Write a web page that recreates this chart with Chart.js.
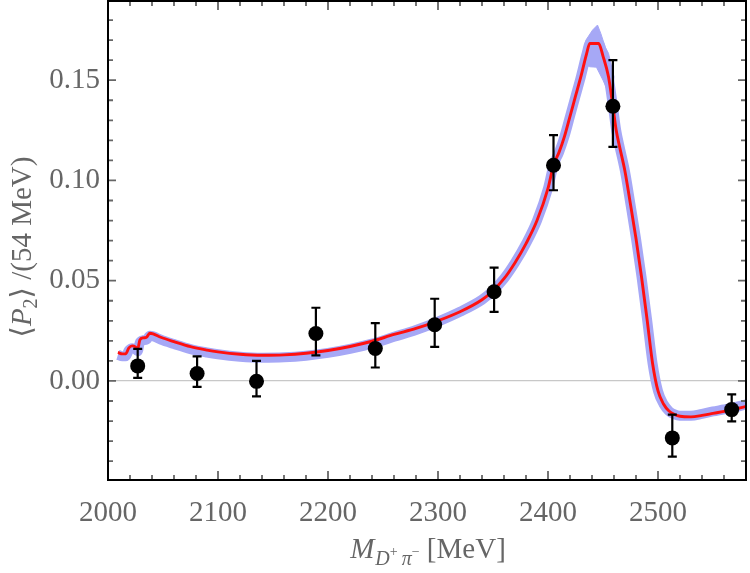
<!DOCTYPE html>
<html>
<head>
<meta charset="utf-8">
<script src="https://cdn.jsdelivr.net/npm/chart.js@4/dist/chart.umd.min.js"></script>
<style>
  body { margin: 0; background: #fff; }
  canvas { display: block; }
</style>
</head>
<body>
<canvas id="p2Chart" width="750" height="573"></canvas>
<script>
// measured <P2> per 54 MeV bin
const binMass = [2027, 2081, 2135, 2189, 2243, 2297, 2351, 2405, 2459, 2513, 2567];
const p2Val = [0.0075, 0.0037, -0.0002, 0.0237, 0.0162, 0.0280, 0.0445, 0.1076, 0.1370, -0.0284, -0.0143];
const p2Lo = [0.0015, -0.0030, -0.0077, 0.0128, 0.0067, 0.0170, 0.0345, 0.0951, 0.1167, -0.0377, -0.0202];
const p2Hi = [0.0160, 0.0123, 0.0100, 0.0365, 0.0288, 0.0410, 0.0565, 0.1226, 0.1600, -0.0168, -0.0067];

// fit curve (red) and centre of the uncertainty band (blue)
const fitMass = [2009, 2013, 2016, 2019, 2022, 2025, 2027, 2029, 2032, 2035,
  2038, 2041, 2048, 2060, 2075, 2090, 2100, 2120, 2140, 2160,
  2180, 2200, 2220, 2240, 2260, 2280, 2300, 2320, 2340, 2350,
  2360, 2370, 2380, 2390, 2400, 2405, 2410, 2415, 2420, 2425,
  2430, 2435, 2438, 2446, 2450, 2455, 2459, 2462, 2465, 2470,
  2475, 2480, 2485, 2490, 2495, 2500, 2505, 2510, 2515, 2520,
  2530, 2540, 2550, 2560, 2570, 2580];
const fitVal = [0.0142, 0.0135, 0.0135, 0.0165, 0.0175, 0.0170, 0.0160, 0.0205, 0.0215, 0.0218,
  0.0238, 0.0235, 0.0218, 0.0196, 0.0171, 0.0154, 0.0145, 0.0133, 0.0128, 0.0130,
  0.0138, 0.0152, 0.0172, 0.0198, 0.0232, 0.0262, 0.0300, 0.0345, 0.0405, 0.0450,
  0.0510, 0.0590, 0.0685, 0.0800, 0.0960, 0.1076, 0.1140, 0.1220, 0.1320, 0.1420,
  0.1520, 0.1630, 0.1683, 0.1683, 0.1620, 0.1517, 0.1370, 0.1250, 0.1170, 0.1045,
  0.0880, 0.0710, 0.0520, 0.0310, 0.0090, -0.0050, -0.0115, -0.0150, -0.0167, -0.0176,
  -0.0179, -0.0172, -0.0162, -0.0152, -0.0141, -0.0127];
const bandMid = [0.0130, 0.0123, 0.0123, 0.0153, 0.0163, 0.0158, 0.0148, 0.0193, 0.0203, 0.0206,
  0.0226, 0.0223, 0.0206, 0.0184, 0.0159, 0.0142, 0.0133, 0.0121, 0.0116, 0.0118,
  0.0126, 0.0140, 0.0160, 0.0186, 0.0220, 0.0254, 0.0296, 0.0345, 0.0405, 0.0450,
  0.0510, 0.0590, 0.0685, 0.0800, 0.0960, 0.1076, 0.1140, 0.1220, 0.1320, 0.1420,
  0.1520, 0.1630, 0.1683, 0.1683, 0.1620, 0.1517, 0.1370, 0.1250, 0.1170, 0.1045,
  0.0880, 0.0710, 0.0520, 0.0310, 0.0090, -0.0050, -0.0115, -0.0150, -0.0167, -0.0174,
  -0.0174, -0.0164, -0.0152, -0.0142, -0.0131, -0.0117];

// wider part of the band around the peak (outline)
const peakMass = [2430, 2434.5, 2440.5, 2445, 2448, 2452, 2455, 2460, 2458, 2450, 2444, 2438, 2433];
const peakVal = [0.1600, 0.1700, 0.1750, 0.1775, 0.1733, 0.1666, 0.1634, 0.1517, 0.1400, 0.1500, 0.1565, 0.1567, 0.1580];

const xTickVals = [2000, 2100, 2200, 2300, 2400, 2500];
const yTickVals = [0.00, 0.05, 0.10, 0.15];

const serif = '"Liberation Serif", "DejaVu Serif", serif';
const grey = '#666666';
const bandColor = 'rgb(166,168,246)';

function pts(xs, ys) {
  return xs.map((x, i) => ({ x: x, y: ys[i] }));
}

// error bars on top of the points
const errorBars = {
  id: 'errorBars',
  afterDatasetsDraw(chart) {
    const c = chart.ctx, xs = chart.scales.x, ys = chart.scales.y;
    c.save();
    c.strokeStyle = '#000';
    c.lineWidth = 2.2;
    binMass.forEach((m, i) => {
      const px = xs.getPixelForValue(m);
      const lo = ys.getPixelForValue(p2Lo[i]);
      const hi = ys.getPixelForValue(p2Hi[i]);
      c.beginPath();
      c.moveTo(px, lo); c.lineTo(px, hi);
      c.moveTo(px - 4.5, lo); c.lineTo(px + 4.5, lo);
      c.moveTo(px - 4.5, hi); c.lineTo(px + 4.5, hi);
      c.stroke();
    });
    c.restore();
  }
};

function runsWidth(c, runs) {
  let w = 0;
  runs.forEach(r => { c.font = r.font; w += c.measureText(r.text).width + (r.gap || 0); });
  return w;
}
function drawRuns(c, runs, x, y) {
  runs.forEach(r => {
    c.font = r.font;
    c.fillText(r.text, x, y + (r.dy || 0));
    x += c.measureText(r.text).width + (r.gap || 0);
  });
}

// frame, inward ticks on all sides, axis titles
const boxFrame = {
  id: 'boxFrame',
  afterDraw(chart) {
    const c = chart.ctx, a = chart.chartArea;
    const xs = chart.scales.x, ys = chart.scales.y;
    c.save();
    c.setTransform(1, 0, 0, 1, 0, 0);
    c.globalAlpha = 1;
    c.setLineDash([]);

    c.strokeStyle = grey;
    c.lineWidth = 1.8;
    c.beginPath();
    for (let v = 2000; v <= 2580; v += 20) {
      const px = xs.getPixelForValue(v);
      const len = v % 100 === 0 ? 9 : 5;
      c.moveTo(px, a.bottom); c.lineTo(px, a.bottom - len);
      c.moveTo(px, a.top); c.lineTo(px, a.top + len);
    }
    for (let k = -4; k <= 18; k++) {
      const py = ys.getPixelForValue(k / 100);
      const len = k % 5 === 0 ? 8 : 5;
      c.moveTo(a.left, py); c.lineTo(a.left + len, py);
      c.moveTo(a.right, py); c.lineTo(a.right - len, py);
    }
    c.stroke();

    c.strokeStyle = '#000000';
    c.lineWidth = 2;
    c.beginPath();
    c.rect(a.left, a.top, a.right - a.left, a.bottom - a.top);
    c.stroke();

    c.fillStyle = grey;
    c.textBaseline = 'alphabetic';
    c.textAlign = 'left';
    const big = '29px ' + serif, bigIt = 'italic 29px ' + serif;
    const sub = 'italic 20px ' + serif, sup = '14px ' + serif;

    const xRuns = [
      { text: 'M', font: bigIt, gap: 1 },
      { text: 'D', font: sub, dy: 7 },
      { text: '+', font: sup, dy: -2, gap: 4 },
      { text: 'π', font: sub, dy: 7 },
      { text: '−', font: sup, dy: -2 },
      { text: ' [MeV]', font: big }
    ];
    drawRuns(c, xRuns, 428 - runsWidth(c, xRuns) / 2, 558);

    const yRuns = [
      { text: '⟨', font: big },
      { text: 'P', font: bigIt },
      { text: '2', font: '20px ' + serif, dy: 6 },
      { text: '⟩', font: big },
      { text: ' /(54 MeV)', font: big }
    ];
    c.translate(21, 247);
    c.rotate(-Math.PI / 2);
    drawRuns(c, yRuns, -runsWidth(c, yRuns) / 2, 10);
    c.restore();
  }
};

function noPad(s) {
  s.paddingTop = 0; s.paddingBottom = 0;
  s.paddingLeft = 0; s.paddingRight = 0;
}

new Chart(document.getElementById('p2Chart'), {
  type: 'line',
  data: {
    datasets: [
      {
        type: 'scatter',
        data: pts(binMass, p2Val),
        pointRadius: 7.5,
        pointBackgroundColor: '#000',
        pointBorderWidth: 0,
        order: 0
      },
      {
        data: pts(fitMass, fitVal),
        borderColor: '#ff1010',
        borderWidth: 2.9,
        pointRadius: 0,
        cubicInterpolationMode: 'monotone',
        fill: false,
        order: 1
      },
      {
        data: pts(peakMass, peakVal),
        borderColor: bandColor,
        backgroundColor: bandColor,
        borderWidth: 1,
        pointRadius: 0,
        tension: 0,
        fill: 'shape',
        order: 2
      },
      {
        data: pts(fitMass, bandMid),
        borderColor: bandColor,
        borderWidth: 10,
        borderCapStyle: 'butt',
        borderJoinStyle: 'round',
        pointRadius: 0,
        cubicInterpolationMode: 'monotone',
        fill: false,
        order: 3
      }
    ]
  },
  options: {
    responsive: false,
    animation: false,
    devicePixelRatio: 1,
    layout: { autoPadding: false, padding: { top: 1, right: 4, left: 0, bottom: 0 } },
    plugins: { legend: { display: false }, tooltip: { enabled: false } },
    scales: {
      x: {
        type: 'linear',
        min: 2000,
        max: 2580,
        afterBuildTicks: s => { s.ticks = xTickVals.map(v => ({ value: v })); },
        afterFit: s => { s.height = 93; noPad(s); },
        ticks: {
          font: { family: serif, size: 29 }, color: grey, padding: 8, maxRotation: 0, autoSkip: false,
          callback: v => String(v)
        },
        grid: { display: false },
        border: { display: false }
      },
      y: {
        type: 'linear',
        min: -0.0494,
        max: 0.1895,
        afterBuildTicks: s => { s.ticks = yTickVals.map(v => ({ value: v })); },
        afterFit: s => { s.width = 108; noPad(s); },
        ticks: {
          font: { family: serif, size: 29 }, color: grey, padding: 8,
          callback: v => v.toFixed(2)
        },
        grid: {
          drawTicks: false,
          lineWidth: 1.2,
          color: c => (c.tick && c.tick.value === 0) ? '#c8c8c8' : 'rgba(0,0,0,0)'
        },
        border: { display: false }
      }
    }
  },
  plugins: [errorBars, boxFrame]
});
</script>
</body>
</html>
